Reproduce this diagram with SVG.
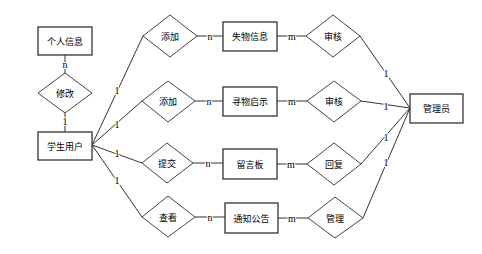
<svg xmlns="http://www.w3.org/2000/svg" width="482" height="254" viewBox="0 0 482 254">
<style>
.box{fill:#fff;stroke:#333;stroke-width:1.3}
.dia{fill:#fff;stroke:#444;stroke-width:1}
.t{font-family:"Noto Sans CJK SC","Liberation Sans",sans-serif;font-size:9px;fill:#000;text-anchor:middle;dominant-baseline:central}
.ln{stroke:#333;stroke-width:1;fill:none}
.lb{font-family:"Liberation Serif",serif;font-size:10px;fill:#000;text-anchor:middle;dominant-baseline:central;stroke:#fff;stroke-width:2;paint-order:stroke}
</style>
<rect width="482" height="254" fill="#fff"/>
<g id="connectors">
<path class="ln" d="M65 55V73M65 113V132"/>
<path class="ln" d="M92 145L143 36M92 145L142 101M92 145L142 163M92 145L142 217"/>
<path class="ln" d="M197 36H223M195 101H223M193 163H223M195 217H225"/>
<path class="ln" d="M277 36H306M277 101H307M277 164H307M278 218H308"/>
<path class="ln" d="M360 36L410 108M361 101L410 108M361 164L410 108M363 218L410 108"/>
<text class="lb" x="65" y="64">n</text>
<text class="lb" x="65" y="121">1</text>
<text class="lb" x="117" y="90">1</text>
<text class="lb" x="117" y="124">1</text>
<text class="lb" x="117" y="153">1</text>
<text class="lb" x="117" y="180">1</text>
<text class="lb" x="210" y="36">n</text>
<text class="lb" x="209" y="101">n</text>
<text class="lb" x="208" y="163">n</text>
<text class="lb" x="210" y="217">n</text>
<text class="lb" x="292" y="36">m</text>
<text class="lb" x="292" y="101">m</text>
<text class="lb" x="291" y="164">m</text>
<text class="lb" x="292" y="218">m</text>
<text class="lb" x="386" y="73">1</text>
<text class="lb" x="386" y="106">1</text>
<text class="lb" x="386" y="137">1</text>
<text class="lb" x="386" y="162">1</text>
</g>
<g id="n-geren"><rect class="box" x="38" y="27" width="54" height="28"/><text class="t" x="65" y="41">个人信息</text></g>
<g id="n-xiugai"><polygon class="dia" points="65,73 92,93 65,113 38,93"/><text class="t" x="65" y="93">修改</text></g>
<g id="n-xuesheng"><rect class="box" x="38" y="132" width="54" height="28"/><text class="t" x="65" y="146">学生用户</text></g>
<g id="n-tianjia1"><polygon class="dia" points="170,15 197,36 170,57 143,36"/><text class="t" x="170" y="36">添加</text></g>
<g id="n-tianjia2"><polygon class="dia" points="168,81 195,101 168,122 142,101"/><text class="t" x="168" y="101">添加</text></g>
<g id="n-tijiao"><polygon class="dia" points="167,143 193,163 167,183 142,163"/><text class="t" x="167" y="163">提交</text></g>
<g id="n-chakan"><polygon class="dia" points="168,196 195,217 168,237 142,217"/><text class="t" x="168" y="217">查看</text></g>
<g id="n-shiwu"><rect class="box" x="223" y="22" width="54" height="29"/><text class="t" x="250" y="36.5">失物信息</text></g>
<g id="n-xunwu"><rect class="box" x="223" y="87" width="54" height="29"/><text class="t" x="250" y="101.5">寻物启示</text></g>
<g id="n-liuyan"><rect class="box" x="223" y="149" width="54" height="30"/><text class="t" x="250" y="164">留言板</text></g>
<g id="n-tongzhi"><rect class="box" x="225" y="203" width="53" height="30"/><text class="t" x="251.5" y="218">通知公告</text></g>
<g id="n-shenhe1"><polygon class="dia" points="333,15 360,36 333,57 306,36"/><text class="t" x="333" y="36">审核</text></g>
<g id="n-shenhe2"><polygon class="dia" points="334,81 361,101 334,122 307,101"/><text class="t" x="334" y="101">审核</text></g>
<g id="n-huifu"><polygon class="dia" points="334,143 361,164 334,185 307,164"/><text class="t" x="334" y="164">回复</text></g>
<g id="n-guanli"><polygon class="dia" points="335,197 363,218 335,238 308,218"/><text class="t" x="335" y="218">管理</text></g>
<g id="n-admin"><rect class="box" x="410" y="94" width="53" height="29"/><text class="t" x="436.5" y="108.5">管理员</text></g>
</svg>
